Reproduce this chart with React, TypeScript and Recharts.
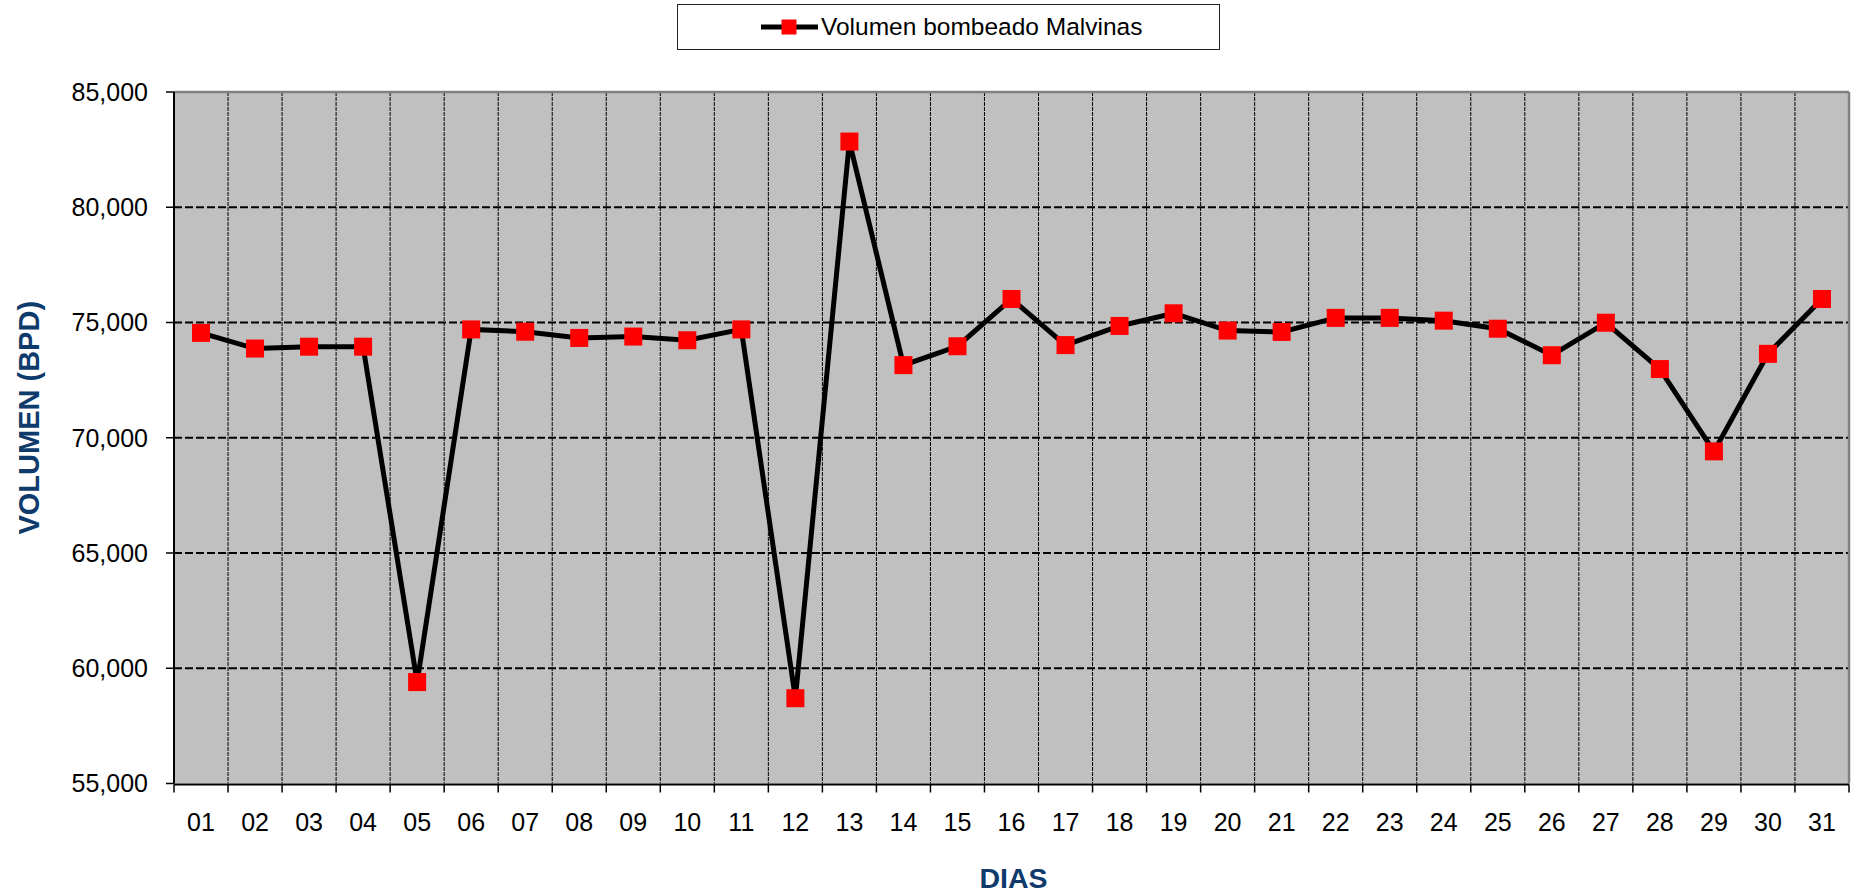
import React from "react";
import { LineChart, Line, XAxis, YAxis, CartesianGrid, Legend, ReferenceLine, Label } from "recharts";

const FONT = "'Liberation Sans', Arial, Helvetica, sans-serif";

const days = [
  "01", "02", "03", "04", "05", "06", "07", "08", "09", "10",
  "11", "12", "13", "14", "15", "16", "17", "18", "19", "20",
  "21", "22", "23", "24", "25", "26", "27", "28", "29", "30", "31",
];

// volumen bombeado (BPD) por dia
const volumes = [
  74550, 73870, 73950, 73950, 59400, 74700, 74600, 74330, 74390, 74230,
  74700, 58700, 82850, 73150, 73970, 76020, 74020, 74850, 75400, 74650,
  74590, 75200, 75200, 75080, 74730, 73580, 74990, 72980, 69410, 73640, 76020,
];

const yTicks = [55000, 60000, 65000, 70000, 75000, 80000, 85000];
const yGrid = [60000, 65000, 70000, 75000, 80000];
const dayEdges = [0, 1, 2, 3, 4, 5, 6, 7, 8, 9, 10, 11, 12, 13, 14, 15, 16, 17, 18, 19, 20, 21, 22, 23, 24, 25, 26, 27, 28, 29, 30, 31];
const innerEdges = dayEdges.slice(1, -1);

const seriesName = "Volumen bombeado Malvinas";
const yTitle = "VOLUMEN (BPD)";
const xTitle = "DIAS";

const data = days.map((d, i) => ({ day: d, pos: i + 0.5, volumen: volumes[i] }));

const SquareDot = (props: any) => {
  const { cx, cy } = props;
  if (cx == null || cy == null) return null;
  return <rect x={cx - 9} y={cy - 9} width={18} height={18} fill="#FF0000" />;
};

const renderLegend = (props: any) => {
  const name = props?.payload?.[0]?.value ?? seriesName;
  return (
    <div style={{ position: "relative", width: 1853, height: 92 }}>
      <div
        style={{
          position: "absolute",
          left: 677,
          top: 4,
          width: 543,
          height: 46,
          boxSizing: "border-box",
          border: "1px solid #222",
          background: "#fff",
          display: "flex",
          alignItems: "center",
          paddingLeft: 83,
        }}
      >
        <svg width={57} height={20} style={{ display: "block" }}>
          <line x1={0} y1={10} x2={57} y2={10} stroke="#000" strokeWidth={5} />
          <rect x={20.5} y={2.5} width={15} height={15} fill="#FF0000" />
        </svg>
        <span style={{ marginLeft: 3, fontSize: 24.5, color: "#000", fontFamily: FONT, lineHeight: 1 }}>{name}</span>
      </div>
    </div>
  );
};

export default function App() {
  return (
    <div style={{ position: "absolute", left: 0, top: 0, width: 1853, height: 893, background: "#fff", fontFamily: FONT }}>
      <LineChart
        width={1853}
        height={893}
        data={data}
        margin={{ top: 0, right: 4, left: 74, bottom: 107.5 }}
        style={{ fontFamily: FONT }}
      >
        <Legend
          verticalAlign="top"
          align="left"
          wrapperStyle={{ left: 0, top: 0, width: 1853, height: 92 }}
          content={renderLegend}
        />
        <CartesianGrid
          xAxisId="num"
          fill="#C0C0C0"
          vertical={false}
          horizontalValues={yGrid}
          stroke="#000"
          strokeWidth={2}
          strokeDasharray="8 3"
        />
        <CartesianGrid
          xAxisId="num"
          horizontal={false}
          verticalValues={innerEdges}
          stroke="#000"
          strokeWidth={1}
          strokeDasharray="4 1"
        />
        <XAxis
          xAxisId="num"
          type="number"
          dataKey="pos"
          domain={[0, 31]}
          ticks={dayEdges}
          interval={0}
          height={1}
          tickSize={8}
          tickFormatter={() => ""}
          axisLine={{ stroke: "#000", strokeWidth: 2 }}
          tickLine={{ stroke: "#000", strokeWidth: 1.5 }}
        >
          <Label
            content={(p: any) => {
              const vb = p.viewBox || { x: 174, y: 783.5, width: 1675 };
              return (
                <text
                  x={vb.x + vb.width / 2 + 2}
                  y={vb.y + 93.5}
                  textAnchor="middle"
                  dominantBaseline="central"
                  fontSize={28.5}
                  fontWeight="bold"
                  fill="#0F3B6C"
                  fontFamily={FONT}
                >
                  {xTitle}
                </text>
              );
            }}
          />
        </XAxis>
        <XAxis
          xAxisId="cat"
          type="category"
          dataKey="day"
          scale="band"
          interval={0}
          height={1}
          tickSize={0}
          tickMargin={30}
          axisLine={false}
          tickLine={false}
          tick={{ fill: "#000", fontSize: 25 }}
        />
        <YAxis
          type="number"
          domain={[55000, 85000]}
          ticks={yTicks}
          interval={0}
          width={100}
          tickSize={8}
          tickMargin={18}
          tick={{ fill: "#000", fontSize: 25 }}
          tickFormatter={(v: number) => v.toLocaleString("en-US")}
          axisLine={{ stroke: "#000", strokeWidth: 2 }}
          tickLine={{ stroke: "#000", strokeWidth: 1.5 }}
        >
          <Label
            content={(p: any) => {
              const vb = p.viewBox || { x: 74, y: 92, height: 691.5 };
              const x = vb.x - 45;
              const y = vb.y + vb.height / 2 - 20;
              return (
                <text
                  x={x}
                  y={y}
                  transform={`rotate(-90, ${x}, ${y})`}
                  textAnchor="middle"
                  dominantBaseline="central"
                  fontSize={29}
                  fontWeight="bold"
                  fill="#0F3B6C"
                  fontFamily={FONT}
                >
                  {yTitle}
                </text>
              );
            }}
          />
        </YAxis>
        <ReferenceLine xAxisId="num" y={85000} stroke="#808080" strokeWidth={2.5} />
        <ReferenceLine xAxisId="num" x={31} stroke="#808080" strokeWidth={2.5} />
        <Line
          xAxisId="num"
          type="linear"
          dataKey="volumen"
          name={seriesName}
          stroke="#000"
          strokeWidth={5}
          dot={<SquareDot />}
          activeDot={false}
          isAnimationActive={false}
        />
      </LineChart>
    </div>
  );
}
